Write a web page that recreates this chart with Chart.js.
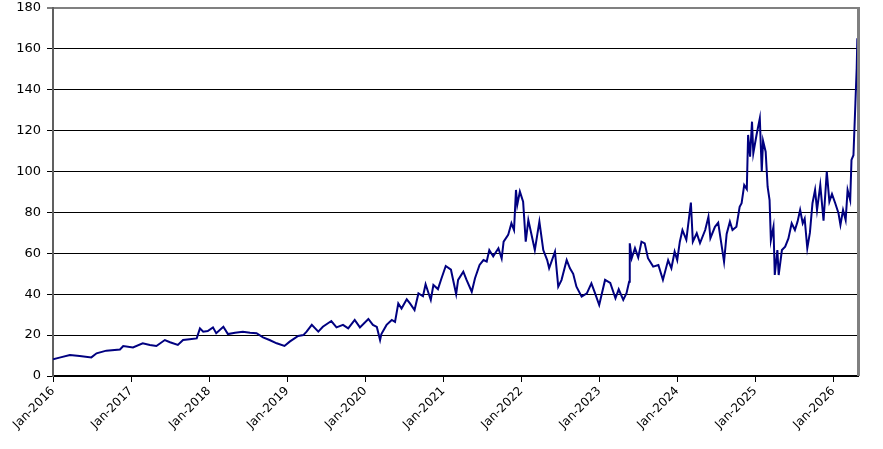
<!DOCTYPE html>
<html>
<head>
<meta charset="utf-8">
<script src="https://cdn.jsdelivr.net/npm/chart.js@4/dist/chart.umd.min.js"></script>
<style>
  body { margin: 0; background: #fff; }
  canvas { display: block; }
</style>
</head>
<body>
<canvas id="graficaPrecio" width="883" height="449"></canvas>
<script>
// meses desde Jan-2016
var meses = [
    0, 1.0, 2.6, 4.1, 5.9, 6.7, 8.2, 10.3, 10.8, 12.3, 13.8, 14.9, 15.9, 17.2, 18.0, 19.2, 20.0, 21.0, 22.1, 22.6,
    23.1, 23.8, 24.6, 25.1, 26.2, 26.9, 28.0, 29.2, 30.3, 31.3, 32.3, 33.3, 34.4, 35.6, 36.4, 37.7, 38.5, 39.0, 39.8, 40.8,
    41.5, 42.8, 43.6, 44.6, 45.4, 46.4, 47.2, 48.5, 49.2, 49.8, 50.3, 50.5, 51.3, 52.1, 52.6, 53.1, 53.6, 54.4, 54.9, 55.6,
    56.2, 56.9, 57.3, 58.1, 58.5, 59.2, 59.7, 60.4, 61.2, 62.0, 62.3, 63.1, 63.6, 64.4, 64.9, 65.6, 66.2, 66.7, 67.1, 67.7,
    68.5, 69.0, 69.3, 70.0, 70.5, 70.9, 71.2, 71.4, 71.8, 72.3, 72.7, 73.1, 73.6, 74.1, 74.8, 75.4, 76.0, 76.3, 77.2, 77.7,
    78.2, 79.0, 79.5, 80.0, 80.5, 81.3, 82.1, 82.8, 83.3, 84.0, 84.9, 85.7, 86.5, 87.0, 87.7, 88.2, 88.6, 88.7, 89.0, 89.5,
    90.0, 90.5, 91.0, 91.5, 92.3, 93.1, 93.8, 94.6, 95.1, 95.6, 96.0, 96.4, 96.8, 97.4, 98.1, 98.4, 99.0, 99.5, 100.3, 100.8,
    101.1, 101.8, 102.3, 102.7, 103.2, 103.6, 104.1, 104.5, 105.1, 105.6, 105.9, 106.3, 106.7, 106.9, 107.2, 107.5, 107.7, 108.2, 108.7, 109.0,
    109.2, 109.6, 109.9, 110.2, 110.4, 110.8, 111.0, 111.4, 111.6, 112.1, 112.6, 113.1, 113.6, 114.1, 114.5, 114.9, 115.3, 115.6, 116.0, 116.4,
    116.8, 117.2, 117.5, 118.0, 118.5, 119.0, 119.4, 119.8, 120.3, 120.8, 121.1, 121.5, 121.9, 122.2, 122.6, 122.8, 123.1, 123.4, 123.6, 123.7,
    123.8
];
var precios = [
    8.2, 9.0, 10.3, 9.8, 9.1, 11.1, 12.4, 13.0, 14.7, 14.0, 16.0, 15.2, 14.7, 17.6, 16.5, 15.2, 17.6, 18.0, 18.4, 23.3,
    21.7, 22.0, 23.8, 20.9, 24.1, 20.5, 21.2, 21.7, 21.2, 20.9, 18.9, 17.6, 16.0, 14.7, 16.8, 19.6, 20.0, 21.7, 25.0, 21.7,
    24.1, 26.9, 23.8, 25.0, 23.3, 27.4, 23.8, 27.9, 25.0, 24.0, 17.6, 20.5, 25.0, 27.4, 26.5, 35.5, 33.0, 37.5, 35.5, 32.3,
    40.4, 39.0, 44.9, 37.2, 44.5, 42.5, 47.3, 53.8, 52.0, 40.0, 47.0, 51.0, 47.0, 41.2, 47.8, 54.3, 56.7, 56.0, 61.6, 58.5,
    62.5, 57.5, 65.7, 69.0, 74.7, 71.4, 91.0, 83.7, 90.2, 85.3, 65.7, 76.3, 69.0, 61.6, 75.5, 61.6, 56.7, 52.7, 60.8, 43.7,
    46.9, 56.7, 52.7, 50.0, 43.7, 38.8, 40.4, 45.3, 41.0, 34.7, 47.0, 45.5, 38.0, 42.4, 37.2, 40.5, 46.1, 64.9, 57.6, 62.5,
    58.0, 65.7, 64.9, 57.6, 53.5, 54.3, 47.0, 56.7, 52.7, 60.8, 56.7, 65.7, 71.4, 66.6, 84.8, 65.7, 69.8, 65.0, 71.4, 77.9,
    67.4, 73.0, 75.0, 66.5, 55.9, 69.5, 75.5, 71.4, 73.0, 82.8, 84.5, 93.4, 91.4, 117.9, 107.3, 124.4, 109.0, 118.0, 126.0, 100.0,
    115.0, 109.7, 92.6, 86.0, 66.5, 73.0, 49.4, 61.6, 49.4, 61.6, 63.3, 67.3, 74.7, 71.4, 75.5, 81.2, 74.7, 77.0, 62.5, 70.0,
    84.5, 91.0, 81.2, 93.4, 76.0, 100.0, 85.3, 89.0, 84.5, 79.6, 73.9, 81.2, 76.3, 91.0, 86.0, 105.7, 108.0, 133.4, 150.5, 165.2,
    153.0
];
var mesesTicks = [0, 12, 24, 36, 48, 60, 72, 84, 96, 108, 120];
var etiquetasTicks = ['Jan-2016', 'Jan-2017', 'Jan-2018', 'Jan-2019', 'Jan-2020', 'Jan-2021',
    'Jan-2022', 'Jan-2023', 'Jan-2024', 'Jan-2025', 'Jan-2026'];

window.onload = function () {
    var puntos = meses.map(function (m, i) { return { x: m, y: precios[i] }; });

    // borde gris a la derecha del area de la grafica
    var bordeDerecho = {
        id: 'bordeDerecho',
        afterDraw: function (chart) {
            var a = chart.chartArea, ctx = chart.ctx;
            ctx.save();
            ctx.strokeStyle = '#808080';
            ctx.lineWidth = 3;
            ctx.beginPath();
            ctx.moveTo(a.right + 0.5, a.top - 1);
            ctx.lineTo(a.right + 0.5, a.bottom);
            ctx.stroke();
            ctx.restore();
        }
    };

    new Chart(document.getElementById("graficaPrecio"), {
        type: 'line',
        data: {
            datasets: [{
                data: puntos,
                borderColor: '#000080',
                borderWidth: 2,
                pointRadius: 0,
                tension: 0,
                fill: false
            }]
        },
        options: {
            responsive: false,
            animation: false,
            layout: { padding: { top: 8, right: 25, left: 0, bottom: 0 } },
            plugins: { legend: { display: false }, tooltip: { enabled: false } },
            scales: {
                x: {
                    type: 'linear',
                    min: 0,
                    max: 123.8,
                    afterBuildTicks: function (s) {
                        s.ticks = mesesTicks.map(function (v) { return { value: v }; });
                    },
                    afterFit: function (s) { s.height = 73; s.paddingLeft = 0; s.paddingRight = 0; },
                    grid: { drawOnChartArea: false, tickLength: 6, color: '#000' },
                    border: { color: '#000', width: 2 },
                    ticks: {
                        minRotation: 45,
                        maxRotation: 45,
                        padding: 2,
                        color: '#000',
                        font: { family: 'DejaVu Sans', size: 12 },
                        callback: function (v) {
                            var i = mesesTicks.indexOf(v);
                            return i >= 0 ? etiquetasTicks[i] : '';
                        }
                    }
                },
                y: {
                    min: 0,
                    max: 180,
                    afterFit: function (s) { s.width = 53; s.paddingTop = 0; s.paddingBottom = 0; },
                    grid: {
                        tickLength: 6,
                        color: function (c) { return c.tick && c.tick.value === 180 ? '#808080' : '#000'; },
                        lineWidth: function (c) { return c.tick && c.tick.value === 180 ? 2 : 1; }
                    },
                    border: { color: '#606060', width: 2 },
                    ticks: {
                        stepSize: 20,
                        padding: 6,
                        color: '#000',
                        font: { family: 'DejaVu Sans', size: 13 }
                    }
                }
            }
        },
        plugins: [bordeDerecho]
    });
}
</script>
</body>
</html>
